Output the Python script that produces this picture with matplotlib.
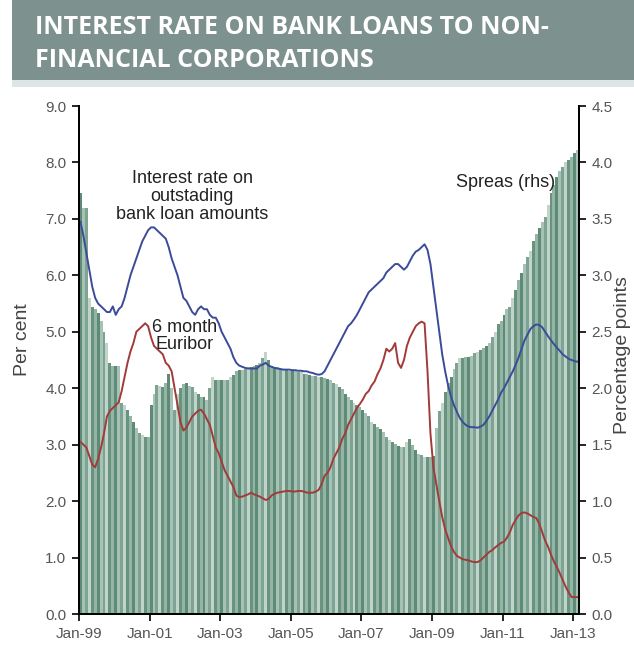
import matplotlib
matplotlib.use("Agg")
import matplotlib.pyplot as plt
import numpy as np
from matplotlib.patches import Rectangle

plt.rcParams['font.family'] = ['Liberation Sans Narrow', 'Liberation Sans', 'DejaVu Sans']

# Monthly data, Jan-99 .. Feb-13
loan_rate = [
    6.95, 6.7, 6.4, 6.1, 5.8, 5.6, 5.5, 5.45, 5.4, 5.35, 5.35, 5.45,      # 1999
    5.3, 5.4, 5.45, 5.6, 5.8, 6.0, 6.15, 6.3, 6.45, 6.6, 6.7, 6.8,        # 2000
    6.85, 6.85, 6.8, 6.75, 6.7, 6.65, 6.5, 6.3, 6.15, 6.0, 5.8, 5.6,      # 2001
    5.55, 5.45, 5.35, 5.3, 5.4, 5.45, 5.4, 5.4, 5.3, 5.25, 5.25, 5.15,    # 2002
    5.0, 4.9, 4.8, 4.7, 4.55, 4.45, 4.4, 4.38, 4.36, 4.35, 4.35, 4.35,    # 2003
    4.35, 4.4, 4.42, 4.45, 4.4, 4.38, 4.36, 4.35, 4.34, 4.33, 4.33, 4.33, # 2004
    4.32, 4.32, 4.31, 4.31, 4.3, 4.3, 4.28, 4.27, 4.25, 4.24, 4.25, 4.3,  # 2005
    4.4, 4.5, 4.6, 4.7, 4.8, 4.9, 5.0, 5.1, 5.15, 5.22, 5.3, 5.4,         # 2006
    5.5, 5.6, 5.7, 5.75, 5.8, 5.85, 5.9, 5.95, 6.05, 6.1, 6.15, 6.2,      # 2007
    6.2, 6.15, 6.1, 6.15, 6.25, 6.35, 6.42, 6.45, 6.5, 6.55, 6.45, 6.2,   # 2008
    5.8, 5.4, 5.0, 4.6, 4.3, 4.05, 3.85, 3.7, 3.58, 3.47, 3.4, 3.35,      # 2009
    3.32, 3.31, 3.31, 3.3, 3.32, 3.35, 3.42, 3.5, 3.6, 3.7, 3.8, 3.92,    # 2010
    4.0, 4.1, 4.2, 4.3, 4.42, 4.55, 4.7, 4.85, 4.95, 5.05, 5.1, 5.13,     # 2011
    5.12, 5.08, 5.0, 4.92, 4.85, 4.78, 4.72, 4.66, 4.6, 4.56, 4.52, 4.5,  # 2012
    4.48, 4.47,                                                           # 2013
]

euribor_6m = [
    3.05, 3.0, 2.95, 2.8, 2.65, 2.6, 2.75, 2.95, 3.2, 3.5, 3.6, 3.65,
    3.7, 3.75, 3.95, 4.2, 4.45, 4.65, 4.8, 5.0, 5.05, 5.1, 5.15, 5.1,
    4.9, 4.75, 4.7, 4.65, 4.6, 4.45, 4.4, 4.3, 4.0, 3.7, 3.4, 3.25,
    3.3, 3.4, 3.5, 3.55, 3.6, 3.62, 3.55, 3.45, 3.35, 3.15, 2.95, 2.85,
    2.7, 2.55, 2.45, 2.35, 2.25, 2.1, 2.07, 2.08, 2.1, 2.12, 2.15, 2.12,
    2.1, 2.08, 2.05, 2.02, 2.04, 2.1, 2.13, 2.15, 2.16, 2.17, 2.18, 2.18,
    2.17, 2.17, 2.18, 2.18, 2.17, 2.15, 2.15, 2.15, 2.17, 2.2, 2.3, 2.45,
    2.5, 2.6, 2.75, 2.85, 2.95, 3.1, 3.2, 3.35, 3.45, 3.55, 3.65, 3.72,
    3.8, 3.9, 3.95, 4.05, 4.12, 4.25, 4.35, 4.5, 4.7, 4.65, 4.7, 4.8,
    4.45, 4.36, 4.5, 4.75, 4.9, 5.0, 5.1, 5.15, 5.18, 5.15, 4.3, 3.2,
    2.6, 2.3, 2.0, 1.72, 1.5, 1.35, 1.2, 1.1, 1.03, 1.0, 0.97, 0.96,
    0.95, 0.93, 0.92, 0.92, 0.95, 1.0, 1.05, 1.1, 1.13, 1.18, 1.22, 1.26,
    1.28, 1.35, 1.45, 1.58, 1.67, 1.75, 1.79, 1.8, 1.78, 1.75, 1.72, 1.7,
    1.6, 1.45, 1.3, 1.19, 1.05, 0.93, 0.83, 0.72, 0.6, 0.48, 0.38, 0.3,
    0.3, 0.3,
]

# spread in percentage points (right axis)
spread = [
    3.73, 3.6, 3.6, 2.8, 2.72, 2.7, 2.67, 2.6, 2.5, 2.4, 2.22, 2.2,
    2.2, 2.2, 1.87, 1.85, 1.81, 1.75, 1.7, 1.65, 1.6, 1.59, 1.57, 1.57,
    1.85, 1.95, 2.03, 2.02, 2.01, 2.05, 2.13, 2.0, 1.81, 1.95, 2.0, 2.04,
    2.05, 2.02, 2.01, 1.97, 1.95, 1.92, 1.92, 1.9, 2.0, 2.1, 2.07, 2.07,
    2.07, 2.07, 2.07, 2.1, 2.12, 2.15, 2.16, 2.16, 2.17, 2.19, 2.19, 2.2,
    2.21, 2.22, 2.27, 2.32, 2.25, 2.2, 2.19, 2.19, 2.17, 2.16, 2.16, 2.15,
    2.15, 2.15, 2.14, 2.14, 2.13, 2.13, 2.12, 2.11, 2.11, 2.1, 2.1, 2.09,
    2.08, 2.07, 2.05, 2.04, 2.01, 1.99, 1.95, 1.92, 1.9, 1.87, 1.85, 1.83,
    1.81, 1.78, 1.75, 1.7, 1.68, 1.66, 1.64, 1.61, 1.57, 1.54, 1.52, 1.51,
    1.49, 1.48, 1.48, 1.52, 1.55, 1.5, 1.45, 1.42, 1.41, 1.39, 1.39, 1.39,
    1.4, 1.65, 1.8, 1.87, 1.97, 2.05, 2.1, 2.17, 2.22, 2.27, 2.27, 2.28,
    2.28, 2.29, 2.31, 2.32, 2.34, 2.36, 2.37, 2.4, 2.45, 2.5, 2.57, 2.6,
    2.65, 2.7, 2.72, 2.8, 2.87, 2.96, 3.02, 3.1, 3.16, 3.22, 3.3, 3.37,
    3.42, 3.47, 3.52, 3.62, 3.73, 3.8, 3.87, 3.92, 3.96, 4.0, 4.02, 4.05,
    4.08, 4.11,
]

tick_labels = ['Jan-99', 'Jan-01', 'Jan-03', 'Jan-05', 'Jan-07', 'Jan-09', 'Jan-11', 'Jan-13']

bar_shades = ['#5e8b78', '#a6c2b5', '#7ea293', '#c0d4ca', '#6a937f', '#94b5a6']

fig = plt.figure(figsize=(6.34, 6.46), dpi=100)
fig.patch.set_facecolor('white')

# title banner
fig.patches.append(Rectangle((0.019, 0.876), 0.981, 0.124, transform=fig.transFigure,
                             facecolor='#7d918e', edgecolor='none', zorder=0))
fig.patches.append(Rectangle((0.019, 0.866), 0.981, 0.010, transform=fig.transFigure,
                             facecolor='#dde5e6', edgecolor='none', zorder=0))
fig.text(0.055, 0.957, 'INTEREST RATE ON BANK LOANS TO NON-', color='white',
         fontsize=18, fontweight='bold', va='center', ha='left',
         family=['Open Sans', 'DejaVu Sans'])
fig.text(0.055, 0.906, 'FINANCIAL CORPORATIONS', color='white',
         fontsize=18, fontweight='bold', va='center', ha='left',
         family=['Open Sans', 'DejaVu Sans'])

ax = fig.add_axes([0.1246, 0.0495, 0.7886, 0.7864])
ax2 = ax.twinx()
ax.set_zorder(ax2.get_zorder() + 1)
ax.patch.set_visible(False)

x = np.arange(len(spread)) + 0.5
colors = [bar_shades[i % len(bar_shades)] for i in range(len(spread))]
ax2.bar(x, spread, width=1.0, color=colors, linewidth=0)

ax.plot(x, loan_rate, color='#3b4b99', linewidth=1.4)
ax.plot(x, euribor_6m, color='#a33a3a', linewidth=1.4)

ax.set_xlim(0, 170)
ax.set_ylim(0, 9)
ax2.set_ylim(0, 4.5)
ax.set_yticks(np.arange(0, 9.1, 1.0))
ax.set_yticklabels([f'{v:.1f}' for v in np.arange(0, 9.1, 1.0)])
ax2.set_yticks(np.arange(0, 4.51, 0.5))
ax2.set_yticklabels([f'{v:.1f}' for v in np.arange(0, 4.51, 0.5)])
ax.set_xticks(np.arange(0, 170, 24))
ax.set_xticklabels(tick_labels)

for a in (ax, ax2):
    a.spines['top'].set_visible(False)
    for s in ('left', 'right', 'bottom'):
        a.spines[s].set_linewidth(1.3)
        a.spines[s].set_color('black')
    a.tick_params(direction='out', length=5, width=1.2, labelsize=11,
                  labelcolor='#555555', pad=4)

ax.set_ylabel('Per cent', fontsize=14, color='#444444')
ax.yaxis.set_label_coords(-0.095, 0.54)
fig.text(0.982, 0.45, 'Percentage points', rotation=90, fontsize=14,
         color='#444444', va='center', ha='center')

ax.text(38.5, 7.4, 'Interest rate on\noutstading\nbank loan amounts', ha='center', va='center',
        fontsize=13, color='#222222', linespacing=1.1)
ax.text(36, 4.93, '6 month\nEuribor', ha='center', va='center', fontsize=13,
        color='#222222', linespacing=1.0)
ax.text(145, 7.64, 'Spreas (rhs)', ha='center', va='center', fontsize=13, color='#222222')

fig.savefig('out.png', dpi=100)
